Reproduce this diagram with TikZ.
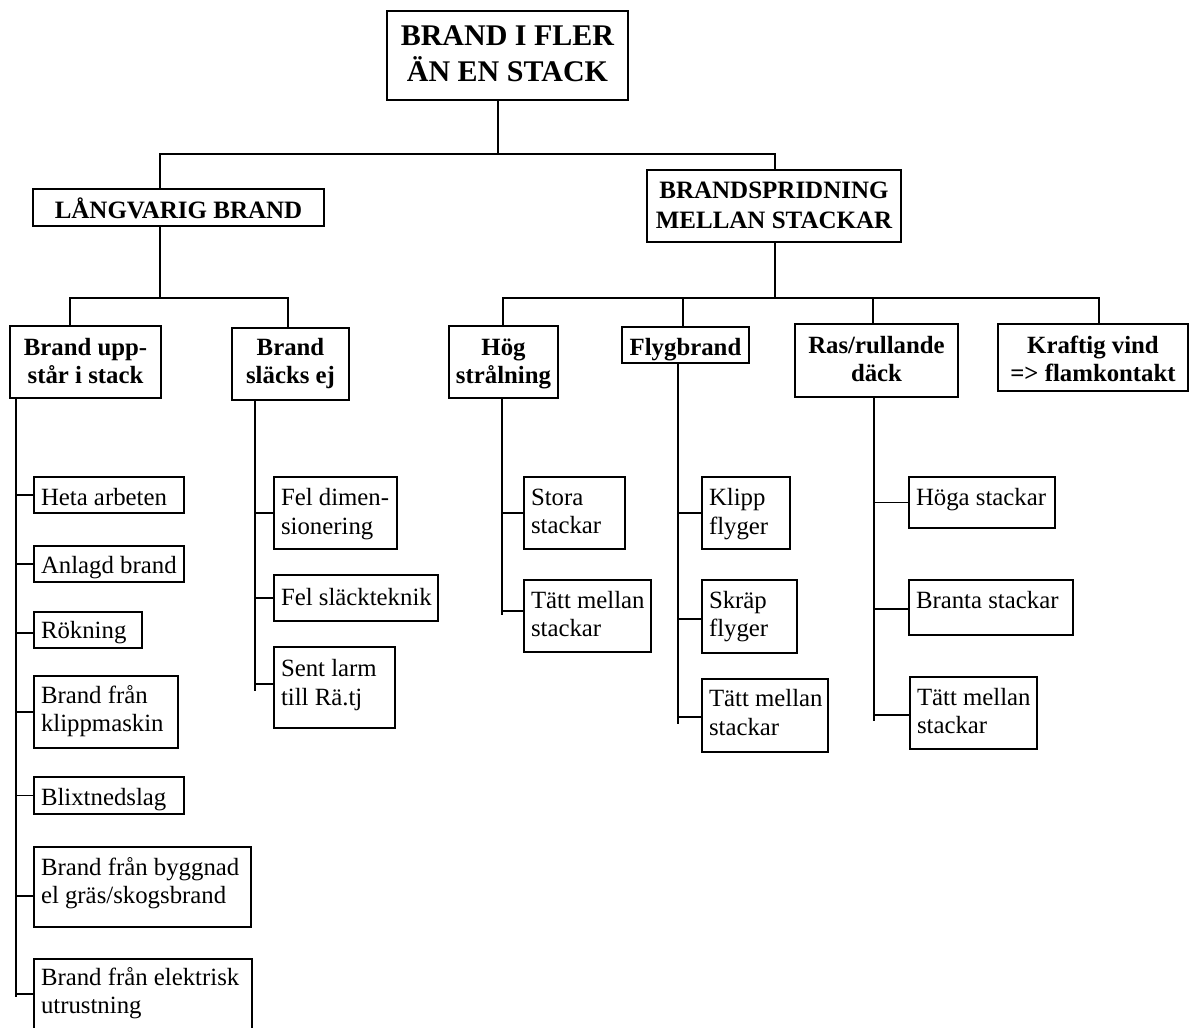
\documentclass[tikz,border=0pt]{standalone}
\usepackage{fontspec}
\setmainfont{Liberation Serif}
\newcommand\bxtxt[5]{\begin{minipage}[c][#2pt][t]{#1pt}#3\rule{0pt}{#4pt}#5\end{minipage}}
\newcommand\lft{\raggedright\leftskip=7pt\relax}
\newcommand\ctr{\centering}
\begin{document}
\begin{tikzpicture}[x=1pt,y=-1pt,
  bx/.style={draw, line width=1.8pt, inner sep=0pt, outer sep=0pt, anchor=north west},
  topf/.style={font=\fontsize{30}{36}\selectfont\bfseries},
  headf/.style={font=\fontsize{25}{30}\selectfont\bfseries},
  subf/.style={font=\fontsize{24.8}{28}\selectfont\bfseries},
  leaf/.style={font=\fontsize{24.8}{28.5}\selectfont},
  conn/.style={line width=1.6pt, line cap=rect}]
\useasboundingbox (0,0) rectangle (1189,1028);
\fill[white] (0,0) rectangle (1189,1028);
\clip (0,0) rectangle (1189,1028);

% top levels
\node[bx,topf] (T) at (387,11) {\bxtxt{241}{89}{\ctr}{34}{BRAND~I~FLER\\ÄN~EN~STACK}};
\node[bx,headf] (L1) at (33,189) {\bxtxt{291}{37}{\ctr}{29}{LÅNGVARIG~BRAND}};
\node[bx,headf] (L2) at (647,170) {\bxtxt{254}{72}{\ctr}{28}{BRANDSPRIDNING\\MELLAN~STACKAR}};

% level 3
\node[bx,subf] (A) at (10,326) {\bxtxt{151}{72}{\ctr}{29}{Brand~upp-\\står~i~stack}};
\node[bx,subf] (B) at (232,328) {\bxtxt{117}{72}{\ctr}{27}{Brand\\släcks~ej}};
\node[bx,subf] (C) at (449,326) {\bxtxt{109}{72}{\ctr}{29}{Hög\\strålning}};
\node[bx,subf] (D) at (622,327) {\bxtxt{127}{36}{\ctr}{28}{Flygbrand}};
\node[bx,subf] (E) at (795,324) {\bxtxt{163}{73}{\ctr}{29}{Ras/rullande\\däck}};
\node[bx,subf] (F) at (998,324) {\bxtxt{190}{67}{\ctr}{29}{Kraftig~vind\\=>~flamkontakt}};

% leaves
\node[bx,leaf] (A1) at (34,477) {\bxtxt{150}{36}{\lft}{28}{Heta~arbeten}};
\node[bx,leaf] (A2) at (34,546) {\bxtxt{150}{36}{\lft}{27}{Anlagd~brand}};
\node[bx,leaf] (A3) at (34,612) {\bxtxt{108}{36}{\lft}{26}{Rökning}};
\node[bx,leaf] (A4) at (34,676) {\bxtxt{144}{72}{\lft}{27}{Brand~från\\klippmaskin}};
\node[bx,leaf] (A5) at (34,777) {\bxtxt{150}{37}{\lft}{28.5}{Blixtnedslag}};
\node[bx,leaf] (A6) at (34,847) {\bxtxt{217}{80}{\lft}{28}{Brand~från~byggnad\\el~gräs/skogsbrand}};
\node[bx,leaf] (A7) at (34,959) {\bxtxt{218}{70}{\lft}{26}{Brand~från~elektrisk\\utrustning}};

\node[bx,leaf] (B1) at (274,477) {\bxtxt{123}{72}{\lft}{28.5}{Fel~dimen-\\sionering}};
\node[bx,leaf] (B2) at (274,575) {\bxtxt{164}{46}{\lft}{30}{Fel~släckteknik}};
\node[bx,leaf] (B3) at (274,647) {\bxtxt{121}{81}{\lft}{29.5}{Sent~larm\\till~Rä.tj}};

\node[bx,leaf] (C1) at (524,477) {\bxtxt{101}{72}{\lft}{28}{Stora\\stackar}};
\node[bx,leaf] (C2) at (524,580) {\bxtxt{127}{72}{\lft}{28}{Tätt~mellan\\stackar}};

\node[bx,leaf] (D1) at (702,477) {\bxtxt{88}{72}{\lft}{28.5}{Klipp\\flyger}};
\node[bx,leaf] (D2) at (702,580) {\bxtxt{95}{73}{\lft}{28}{Skräp\\flyger}};
\node[bx,leaf] (D3) at (702,679) {\bxtxt{126}{73}{\lft}{27.5}{Tätt~mellan\\stackar}};

\node[bx,leaf] (E1) at (909,477) {\bxtxt{146}{51}{\lft}{28}{Höga~stackar}};
\node[bx,leaf] (E2) at (909,580) {\bxtxt{164}{55}{\lft}{28}{Branta~stackar}};
\node[bx,leaf] (E3) at (910,677) {\bxtxt{127}{72}{\lft}{28}{Tätt~mellan\\stackar}};

% upper connectors
\coordinate (j0) at (498,154);
\coordinate (j1) at (160,154);
\coordinate (j2) at (775,154);
\draw[conn] (T.south -| j0) -- (j0);
\draw[conn] (j1) -- (j2);
\draw[conn] (j1) -- (j1 |- L1.north);
\draw[conn] (j2) -- (j2 |- L2.north);

\coordinate (k0) at (160,298);
\coordinate (k1) at (70,298);
\coordinate (k2) at (288,298);
\draw[conn] (L1.south -| k0) -- (k0);
\draw[conn] (k1) -- (k2);
\draw[conn] (k1) -- (k1 |- A.north);
\draw[conn] (k2) -- (k2 |- B.north);

\coordinate (m1) at (503,298);
\coordinate (m2) at (683,298);
\coordinate (m3) at (775,298);
\coordinate (m4) at (873,298);
\coordinate (m5) at (1099,298);
\draw[conn] (L2.south -| m3) -- (m3);
\draw[conn] (m1) -- (m5);
\draw[conn] (m1) -- (m1 |- C.north);
\draw[conn] (m2) -- (m2 |- D.north);
\draw[conn] (m4) -- (m4 |- E.north);
\draw[conn] (m5) -- (m5 |- F.north);

% trunks
\coordinate (Ae) at (16,996);
\draw[conn] (A.south -| Ae) -- (Ae);
\draw[conn] (Ae |- A1.west) -- (A1.west);
\draw[conn] (Ae |- A2.west) -- (A2.west);
\draw[conn] ([yshift=-3pt]Ae |- A3.west) -- ([yshift=-3pt]A3.west);
\draw[conn] (Ae |- A4.west) -- (A4.west);
\draw[conn] (Ae |- A5.west) -- (A5.west);
\draw[conn] ([yshift=-9pt]Ae |- A6.west) -- ([yshift=-9pt]A6.west);
\draw[conn] (Ae |- A7.west) -- (A7.west);

\coordinate (Be) at (255,690);
\draw[conn] (B.south -| Be) -- (Be);
\draw[conn] (Be |- B1.west) -- (B1.west);
\draw[conn] (Be |- B2.west) -- (B2.west);
\draw[conn] ([yshift=3.5pt]Be |- B3.west) -- ([yshift=3.5pt]B3.west);

\coordinate (Ce) at (502,614);
\draw[conn] (C.south -| Ce) -- (Ce);
\draw[conn] (Ce |- C1.west) -- (C1.west);
\draw[conn] ([yshift=5pt]Ce |- C2.west) -- ([yshift=5pt]C2.west);

\coordinate (De) at (678,723);
\draw[conn] (D.south -| De) -- (De);
\draw[conn] (De |- D1.west) -- (D1.west);
\draw[conn] ([yshift=-2.5pt]De |- D2.west) -- ([yshift=-2.5pt]D2.west);
\draw[conn] ([yshift=-1.5pt]De |- D3.west) -- ([yshift=-1.5pt]D3.west);

\coordinate (Ee) at (874,720);
\draw[conn] (E.south -| Ee) -- (Ee);
\draw[conn] (Ee |- E1.west) -- (E1.west);
\draw[conn] ([yshift=-1.5pt]Ee |- E2.west) -- ([yshift=-1.5pt]E2.west);
\draw[conn] ([yshift=-2pt]Ee |- E3.west) -- ([yshift=-2pt]E3.west);
\end{tikzpicture}
\end{document}
